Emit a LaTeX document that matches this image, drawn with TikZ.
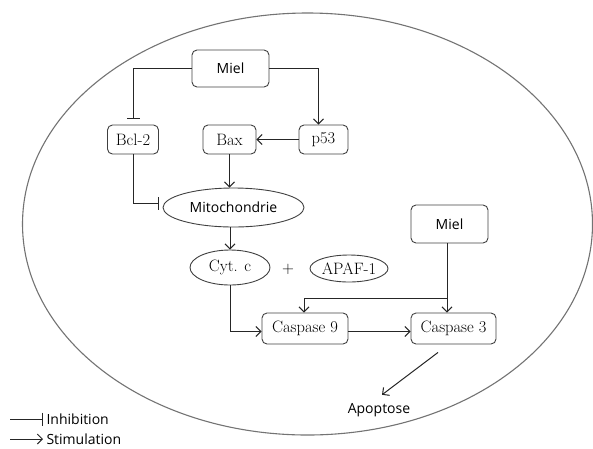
\documentclass[tikz,border=0pt]{standalone}
\usepackage{fontspec}
\setsansfont{Open Sans}
\usepackage{tikz}
\usetikzlibrary{shapes.geometric, arrows.meta}

\begin{document}
\begin{tikzpicture}[
  x=1pt, y=-1pt,
  box/.style={draw=black!75, rounded corners=5pt, line width=0.9pt, inner sep=0pt},
  oval/.style={draw=black!75, ellipse, line width=0.9pt, inner sep=0pt},
  serif/.style={font=\fontsize{16.5}{19}\selectfont\rmfamily},
  sans/.style={font=\fontsize{14}{17}\selectfont\sffamily},
  stim/.style={draw=black!85, line width=1pt, -{Straight Barb[length=5pt, width=10pt, line width=1pt]}},
  inh/.style={draw=black!85, line width=1pt, -{Bar[width=13pt, line width=1pt]}},
  cell/.style={draw=black!55, line width=1.1pt}
]
\useasboundingbox (0,0) rectangle (593,448);
\draw[cell] (307.5,224) ellipse [x radius=285, y radius=211];

\node[box, sans, minimum width=77pt, minimum height=37pt] (miel1) at (230.5,68.5) {Miel};
\node[box, serif, minimum width=51pt, minimum height=29pt] (bcl) at (133,139.5) {Bcl-2};
\node[box, serif, minimum width=53pt, minimum height=29pt] (bax) at (229.5,139.5) {Bax};
\node[box, serif, minimum width=49pt, minimum height=29pt] (p53) at (323.5,139.5) {p53};
\node[oval, sans, minimum width=141pt, minimum height=39pt] (mito) at (233.5,207.5) {Mitochondrie};
\node[oval, serif, minimum width=80pt, minimum height=35pt] (cytc) at (230,267.5) {Cyt. c};
\node[serif] (plus) at (288,269) {+};
\node[oval, serif, minimum width=78pt, minimum height=27pt] (apaf) at (349,268.5) {APAF-1};
\node[box, sans, minimum width=77pt, minimum height=38pt] (miel2) at (449.5,224) {Miel};
\node[box, serif, minimum width=86pt, minimum height=31pt] (casp9) at (305,328.5) {Caspase 9};
\node[box, serif, minimum width=85pt, minimum height=31pt] (casp3) at (453.5,328.5) {Caspase 3};
\node[sans] (apop) at (379,410) {Apoptose};

\draw[inh, shorten >=6pt] (miel1.west) -| (bcl.north);
\draw[stim] (miel1.east) -| ([xshift=-5pt]p53.north);
\draw[stim] (p53.west) -- (bax.east);
\draw[stim] (bax.south) -- (mito.north -| bax.south);
\draw[inh, shorten >=4pt] (bcl.south) |- ([yshift=4pt]mito.west);
\draw[stim] (mito.south -| cytc.south) -- (cytc.north);
\draw[stim] (cytc.south) |- ([yshift=-3pt]casp9.west);
\coordinate (branch) at (447,298);
\draw[stim] (miel2.south -| branch) -- (casp3.north -| branch);
\draw[stim] (branch) -| ([xshift=-1pt]casp9.north);
\draw[stim] ([yshift=-3pt]casp9.east) -- ([yshift=-3pt]casp3.west);
\draw[stim] ([xshift=-15.5pt,yshift=-8pt]casp3.south) -- ([xshift=3pt,yshift=5pt]apop.north);

\node[sans, anchor=west] (inhtxt) at (43,419) {Inhibition};
\node[sans, anchor=west] (stimtxt) at (43,439) {Stimulation};
\coordinate (inhstart) at (10,419);
\coordinate (stimstart) at (10,439);
\draw[inh] (inhstart) -- (inhtxt.west);
\draw[stim] (stimstart) -- (stimtxt.west);
\end{tikzpicture}
\end{document}
